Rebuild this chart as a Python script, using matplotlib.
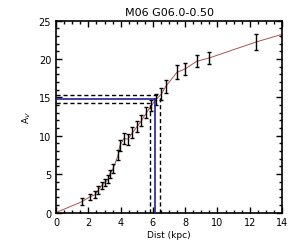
import matplotlib
matplotlib.use("Agg")
import matplotlib.pyplot as plt
from matplotlib.ticker import MultipleLocator

dist = [1.59, 2.10, 2.40, 2.60, 2.82, 3.02, 3.23, 3.33, 3.54, 3.85, 3.95, 4.20, 4.46,
        4.73, 5.02, 5.29, 5.60, 5.90, 6.20, 6.52, 6.79, 7.49, 8.00, 8.72, 9.46, 12.39]
av = [1.4, 2.06, 2.3, 2.9, 3.5, 3.9, 4.35, 5.0, 5.75, 7.5, 8.7, 9.65, 9.55,
      10.4, 11.2, 11.95, 13.0, 13.9, 14.75, 15.4, 16.4, 18.25, 18.7, 19.7, 20.1, 22.2]
err = [0.45, 0.4, 0.45, 0.5, 0.5, 0.5, 0.5, 0.5, 0.55, 0.6, 0.7, 0.7, 0.7,
       0.7, 0.7, 0.7, 0.7, 0.7, 0.7, 0.75, 0.9, 0.9, 0.8, 0.75, 0.75, 1.08]

line_d = [0.0] + dist + [14.0]
line_av = [0.0] + av + [23.2]

best_d, best_av = 6.15, 14.8
lo_d, hi_d = 5.84, 6.44
lo_av, hi_av = 14.2, 15.35

fig = plt.figure(figsize=(3.0, 2.53), dpi=100)
ax = fig.add_axes([0.187, 0.156, 0.753, 0.759])

ax.plot(line_d, line_av, color="#b05050", lw=0.7, zorder=2)
ax.errorbar(dist, av, yerr=err, fmt="none", ecolor="black", elinewidth=1.0,
            capsize=1.5, capthick=1.0, zorder=3)

ax.plot([0, best_d], [best_av, best_av], color="#2020a0", lw=1.2, zorder=4)
ax.plot([best_d, best_d], [0, best_av], color="#2020a0", lw=1.2, zorder=4)
ax.plot([0, hi_d], [hi_av, hi_av], color="black", lw=1.0, ls=(0, (3, 2)), zorder=4)
ax.plot([hi_d, hi_d], [0, hi_av], color="black", lw=1.0, ls=(0, (3, 2)), zorder=4)
ax.plot([0, lo_d], [lo_av, lo_av], color="black", lw=1.0, ls=(0, (3, 2)), zorder=4)
ax.plot([lo_d, lo_d], [0, lo_av], color="black", lw=1.0, ls=(0, (3, 2)), zorder=4)

ax.set_xlim(0, 14)
ax.set_ylim(0, 25)
ax.xaxis.set_major_locator(MultipleLocator(2))
ax.xaxis.set_minor_locator(MultipleLocator(0.5))
ax.yaxis.set_major_locator(MultipleLocator(5))
ax.yaxis.set_minor_locator(MultipleLocator(1))
ax.tick_params(which="both", direction="in", top=True, right=True, labelsize=7, width=1.0)
ax.tick_params(which="major", length=4)
ax.tick_params(which="minor", length=2)
for s in ax.spines.values():
    s.set_linewidth(1.2)

ax.set_title("M06 G06.0-0.50", fontsize=8, pad=4)
ax.set_xlabel("Dist (kpc)", fontsize=6.5, labelpad=2)
ax.set_ylabel("A$_V$", fontsize=6.5, labelpad=4)

fig.savefig("out.png", dpi=100)
